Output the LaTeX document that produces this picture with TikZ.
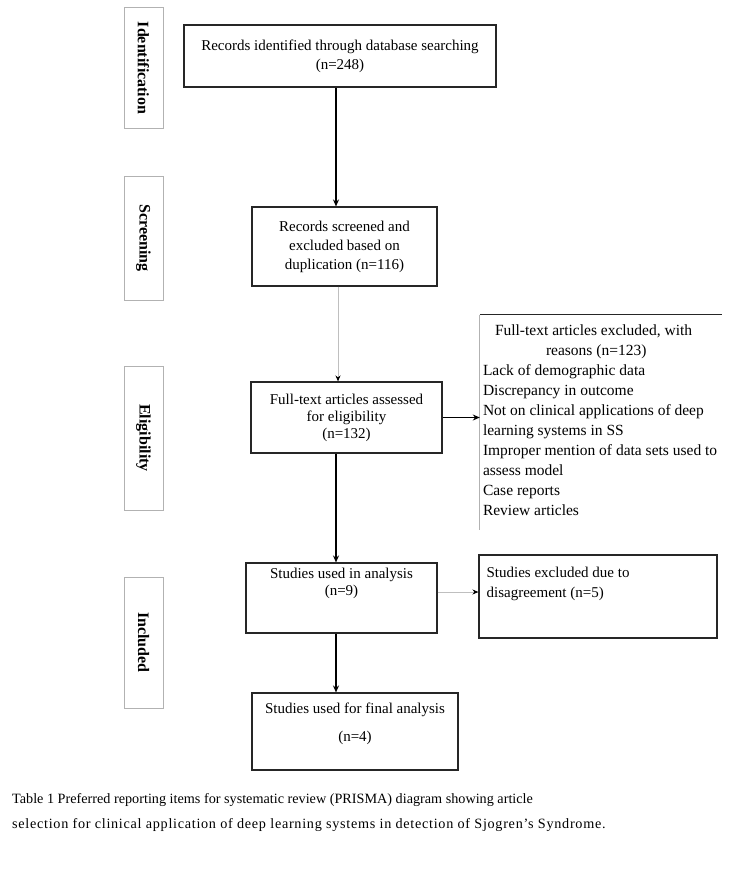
\documentclass[tikz,border=0pt]{standalone}
\usepackage{fontspec}
\setmainfont{Liberation Serif}
\usetikzlibrary{arrows.meta}
\begin{document}
\begin{tikzpicture}[x=1pt,y=1pt,
  every node/.style={font=\fontsize{15}{19}\selectfont},
  box/.style={draw=black!85, line width=1.1pt, rectangle, inner sep=3pt, align=center},
  phase/.style={draw=black!30, line width=1pt, fill=white, rotate=-90, minimum height=39pt, inner sep=0pt, font=\fontsize{16}{18}\selectfont\bfseries},
  arr/.style={-{Stealth[length=7pt,width=6pt]}, line width=1.3pt, draw=black},
  thinarr/.style={-{Stealth[length=6pt,width=5pt,color=black]}, line width=1pt, draw=black!25},
]
\useasboundingbox[fill=white] (0,0) rectangle (739,-875);

% phase labels
\node[phase, minimum width=120pt] (pid) at (143.5,-68) {Identification};
\node[phase, minimum width=124pt] (psc) at (143.5,-238) {Screening};
\node[phase, minimum width=144pt] (pel) at (143.5,-438) {Eligibility};
\node[phase, minimum width=131pt] (pin) at (143.5,-642.5) {Included};

% main boxes
\node[box, minimum width=312pt, minimum height=62pt] (records) at (340,-56)
  {Records identified through database searching\\(n=248)};
\node[box, minimum width=185pt, minimum height=79pt] (screen) at (344.5,-246.5)
  {Records screened and\\excluded based on\\duplication (n=116)};
\node[box, minimum width=191pt, minimum height=71pt, font=\fontsize{15}{17}\selectfont] (elig) at (346.5,-417.5)
  {Full-text articles assessed\\for eligibility\\(n=132)};
\node[minimum width=242pt, minimum height=215pt, inner sep=0pt] (reasons) at (601,-422.5) {};
\node[anchor=north west, align=left, inner sep=0pt, font=\fontsize{15.5}{20}\selectfont] (reasonsT) at ([xshift=3pt,yshift=-10pt]reasons.north west)
  {\hspace*{12pt}Full-text articles excluded, with\\
   \hspace*{63pt}reasons (n=123)\\
   Lack of demographic data\\
   Discrepancy in outcome\\
   Not on clinical applications of deep\\
   learning systems in SS\\
   Improper mention of data sets used to\\
   assess model\\
   Case reports\\
   Review articles};
\node[box, minimum width=191pt, minimum height=70pt] (studies) at (341.5,-598) {};
\node[anchor=north, align=center, inner sep=0pt, font=\fontsize{15}{17}\selectfont] (studiesT) at ([yshift=-5pt]studies.north)
  {Studies used in analysis\\(n=9)};
\node[box, minimum width=238pt, minimum height=83pt] (excl) at (598,-596.5) {};
\node[anchor=north west, align=left, inner sep=0pt, font=\fontsize{15}{20}\selectfont] (exclT) at ([xshift=8pt,yshift=-12pt]excl.north west)
  {Studies excluded due to\\disagreement (n=5)};
\node[box, minimum width=206pt, minimum height=77pt] (final) at (355,-731.5) {};
\node[anchor=north, align=center, inner sep=0pt, font=\fontsize{15}{28}\selectfont] (finalT) at ([yshift=-10pt]final.north)
  {Studies used for final analysis\\(n=4)};

% partial border of reasons box
\draw[black!85, line width=1.1pt] (reasons.north west) -- (reasons.north east);
\draw[black!30, line width=1pt] (reasons.north west) -- (reasons.south west);

% connectors
\coordinate (col) at (336,0);
\coordinate (colb) at (338,0);
\coordinate (rowb) at (0,-592);
\draw[arr] (records.south -| col) -- (screen.north -| col);
\draw[thinarr] (screen.south -| colb) -- (elig.north -| colb);
\draw[arr] (elig.east) -- (elig.east -| reasons.west);
\draw[arr] (elig.south -| col) -- (studies.north -| col);
\draw[thinarr] (studies.east |- rowb) -- (excl.west |- rowb);
\draw[arr, line width=1.8pt] (studies.south -| col) -- (final.north -| col);

% caption
\node[anchor=north west, align=left, inner sep=0pt, font=\fontsize{14.2}{25}\selectfont] (caption) at (12,-793)
  {Table 1 Preferred reporting items for systematic review (PRISMA) diagram showing article\\
   {\addfontfeature{LetterSpace=5}selection for clinical application of deep learning systems in detection of Sjogren's Syndrome.}};
\end{tikzpicture}
\end{document}
